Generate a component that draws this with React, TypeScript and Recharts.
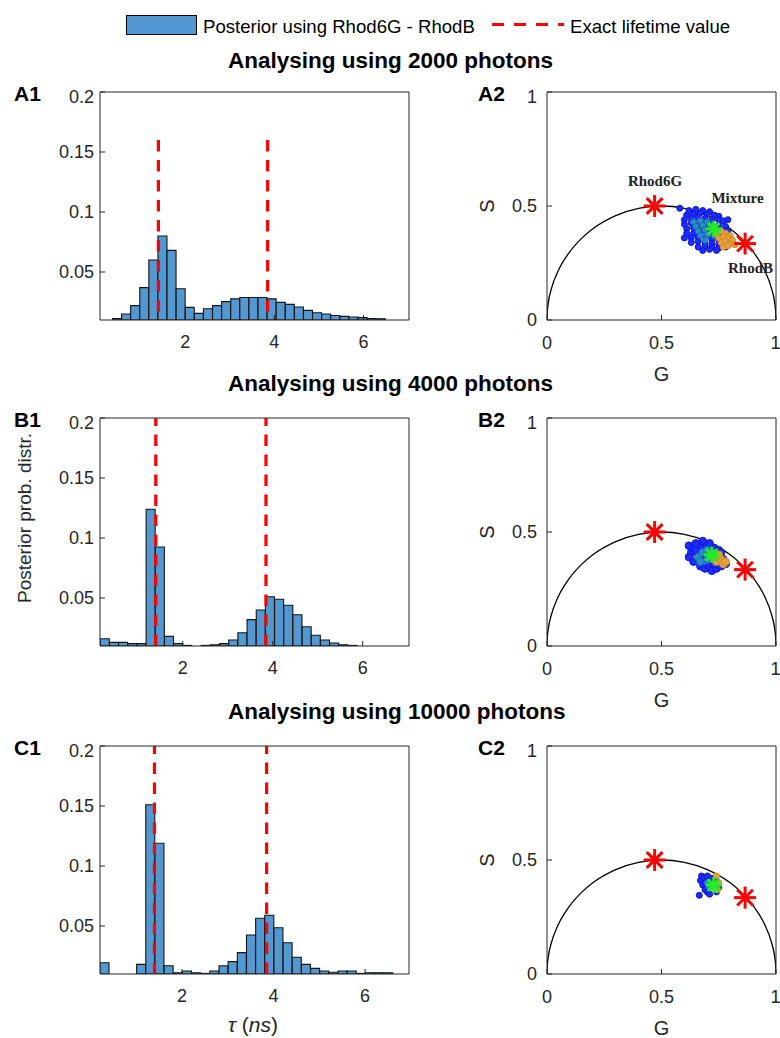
import {
  Bar,
  ComposedChart,
  Line,
  ReferenceLine,
  Scatter,
  XAxis,
  YAxis,
} from 'recharts';

const INK = '#262626';
const BAR_FILL = '#5398d0';
const RED = '#ff0000';
const FONT = '"Liberation Sans", Arial, sans-serif';

// A1 – 2000 photons, bin centres (ns) and posterior probability
const tauA = [
  0.472, 0.676, 0.88, 1.084, 1.288, 1.492, 1.696, 1.9, 2.104, 2.308, 2.512,
  2.716, 2.92, 3.124, 3.328, 3.532, 3.736, 3.94, 4.144, 4.348, 4.552, 4.756,
  4.96, 5.164, 5.368, 5.572, 5.776, 5.98, 6.184, 6.388,
];
const probA = [
  0.0113, 0.015, 0.022, 0.037, 0.06, 0.08, 0.068, 0.036, 0.0205, 0.0155,
  0.0194, 0.022, 0.0253, 0.0276, 0.0287, 0.0287, 0.0287, 0.0276, 0.0247,
  0.023, 0.0208, 0.018, 0.016, 0.015, 0.0138, 0.013, 0.0125, 0.012, 0.0113,
  0.0111,
];

// B1 – 4000 photons
const tauB = [
  0.268, 0.472, 0.676, 0.88, 1.084, 1.288, 1.492, 1.696, 1.9, 2.104, 2.308,
  2.512, 2.716, 2.92, 3.124, 3.328, 3.532, 3.736, 3.94, 4.144, 4.348, 4.552,
  4.756, 4.96, 5.164, 5.368, 5.572, 5.776, 5.98, 6.184, 6.388, 6.592,
];
const probB = [
  0.016, 0.013, 0.013, 0.012, 0.012, 0.124, 0.0925, 0.018, 0.012, 0.0105,
  null, 0.0105, 0.011, 0.012, 0.015, 0.021, 0.032, 0.04, 0.051, 0.049, 0.044,
  0.036, 0.026, 0.019, 0.015, 0.0125, 0.011, 0.0105, null, null, null, null,
];

// C1 – 10000 photons
const tauC = [
  0.31, 0.51, 0.71, 0.91, 1.11, 1.31, 1.51, 1.71, 1.91, 2.11, 2.31, 2.51,
  2.71, 2.91, 3.11, 3.31, 3.51, 3.71, 3.91, 4.11, 4.31, 4.51, 4.71, 4.91,
  5.11, 5.31, 5.51, 5.71, 5.91, 6.11, 6.31, 6.51,
];
const probC = [
  0.0194, null, null, null, 0.018, 0.151, 0.119, 0.0169, 0.011, 0.0125, 0.011,
  0.0105, 0.0125, 0.0169, 0.0203, 0.0278, 0.0425, 0.0564, 0.059, 0.0486,
  0.036, 0.024, 0.018, 0.0147, 0.0125, 0.0114, 0.0125, 0.0125, 0.0105, 0.011,
  0.011, 0.011,
];

const exactTau = [1.4, 3.85];
const histTicksX = [2, 4, 6];
const histTicksY = [0.05, 0.1, 0.15, 0.2];

// universal semicircle
const arcG = [
  0, 0.001, 0.005, 0.02, 0.05, 0.1, 0.15, 0.2, 0.3, 0.4, 0.5, 0.6, 0.7, 0.8,
  0.85, 0.9, 0.95, 0.98, 0.995, 0.999, 1,
];
const arcS = [
  0, 0.032, 0.0705, 0.14, 0.218, 0.3, 0.357, 0.4, 0.458, 0.49, 0.5, 0.49,
  0.458, 0.4, 0.357, 0.3, 0.218, 0.14, 0.0705, 0.032, 0,
];

// pure dyes (Rhod6G, RhodB)
const dyeG = [0.47, 0.865];
const dyeS = [0.5, 0.335];

// A2 cloud
const a2BlueG = [
  0.58, 0.62, 0.65, 0.68, 0.71, 0.61, 0.64, 0.67, 0.7, 0.73, 0.75, 0.6, 0.63,
  0.66, 0.69, 0.72, 0.75, 0.77, 0.6, 0.63, 0.66, 0.69, 0.72, 0.75, 0.78, 0.61,
  0.64, 0.67, 0.7, 0.73, 0.76, 0.79, 0.61, 0.64, 0.67, 0.7, 0.73, 0.76, 0.79,
  0.6, 0.63, 0.66, 0.69, 0.72, 0.75, 0.78, 0.63, 0.66, 0.69, 0.72, 0.75, 0.78,
  0.66, 0.69, 0.72, 0.75, 0.78, 0.68, 0.71, 0.74, 0.79,
];
const a2BlueS = [
  0.49, 0.48, 0.485, 0.48, 0.475, 0.46, 0.465, 0.47, 0.465, 0.46, 0.455, 0.44,
  0.445, 0.45, 0.445, 0.44, 0.44, 0.435, 0.42, 0.425, 0.42, 0.425, 0.42,
  0.415, 0.41, 0.4, 0.405, 0.4, 0.4, 0.395, 0.39, 0.39, 0.38, 0.38, 0.385,
  0.38, 0.375, 0.37, 0.37, 0.36, 0.36, 0.365, 0.36, 0.355, 0.35, 0.35, 0.34,
  0.345, 0.34, 0.335, 0.33, 0.33, 0.32, 0.325, 0.32, 0.315, 0.32, 0.305, 0.31,
  0.305, 0.44,
];
const a2TealG = [0.64, 0.67, 0.7, 0.65, 0.68, 0.71, 0.66, 0.69, 0.72, 0.67, 0.7, 0.73, 0.69];
const a2TealS = [0.43, 0.435, 0.43, 0.41, 0.415, 0.42, 0.39, 0.395, 0.4, 0.37, 0.375, 0.37, 0.35];
const a2OrangeG = [0.74, 0.76, 0.78, 0.8, 0.75, 0.77, 0.79, 0.81, 0.76, 0.78, 0.8, 0.82, 0.77, 0.79];
const a2OrangeS = [0.38, 0.39, 0.38, 0.37, 0.36, 0.365, 0.36, 0.35, 0.34, 0.345, 0.335, 0.33, 0.32, 0.325];

// B2 cloud
const b2BlueG = [
  0.62, 0.63, 0.62, 0.64, 0.64, 0.65, 0.66, 0.67, 0.67, 0.68, 0.69, 0.69, 0.7,
  0.71, 0.72, 0.73, 0.74, 0.75, 0.76, 0.77, 0.78, 0.65, 0.71, 0.76, 0.73,
];
const b2BlueS = [
  0.44, 0.41, 0.39, 0.37, 0.43, 0.45, 0.4, 0.35, 0.43, 0.46, 0.38, 0.34, 0.44,
  0.35, 0.33, 0.43, 0.34, 0.42, 0.35, 0.38, 0.36, 0.42, 0.45, 0.41, 0.36,
];
const b2TealG = [0.66, 0.68, 0.7, 0.67, 0.7, 0.72];
const b2TealS = [0.39, 0.41, 0.42, 0.37, 0.38, 0.41];
const b2OrangeG = [0.74, 0.76, 0.75, 0.77, 0.73, 0.78];
const b2OrangeS = [0.37, 0.38, 0.4, 0.36, 0.39, 0.37];

// C2 cloud
const c2BlueG = [0.665, 0.67, 0.675, 0.68, 0.685, 0.69, 0.69, 0.7, 0.7, 0.71, 0.72, 0.74, 0.75, 0.74];
const c2BlueS = [0.345, 0.41, 0.43, 0.39, 0.42, 0.4, 0.37, 0.36, 0.43, 0.35, 0.42, 0.36, 0.38, 0.41];
const c2TealG = [0.7, 0.71];
const c2TealS = [0.4, 0.38];
const c2OrangeG = [0.745, 0.75, 0.74];
const c2OrangeS = [0.37, 0.4, 0.43];

const mixG = [0.728, 0.72, 0.728];
const mixS = [0.4, 0.4, 0.39];

const zip = (g: number[], s: number[]) => g.map((v, i) => ({ g: v, s: s[i] }));

const makeDot = (fill: string, stroke: string, r: number) => (props: any) => {
  const { cx, cy } = props;
  if (cx == null || cy == null) return <g />;
  return <circle cx={cx} cy={cy} r={r} fill={fill} stroke={stroke} strokeWidth={1} />;
};

const makeStar = (color: string, r: number, w: number) => (props: any) => {
  const { cx, cy } = props;
  if (cx == null || cy == null) return <g />;
  const d = r * 0.72;
  return (
    <g stroke={color} strokeWidth={w}>
      <line x1={cx - r} y1={cy} x2={cx + r} y2={cy} />
      <line x1={cx} y1={cy - r} x2={cx} y2={cy + r} />
      <line x1={cx - d} y1={cy - d} x2={cx + d} y2={cy + d} />
      <line x1={cx - d} y1={cy + d} x2={cx + d} y2={cy - d} />
    </g>
  );
};

const PLOT_H = 228;

interface HistProps {
  top: number;
  tau: number[];
  prob: (number | null)[];
  domain: [number, number];
  lineTop?: number;
}

function Hist({ top, tau, prob, domain, lineTop }: HistProps) {
  const data = tau.map((t, i) => ({ tau: t, p: prob[i] }));
  const dash = { stroke: RED, strokeWidth: 3.2, strokeDasharray: '11.5 8.5' };
  return (
    <div style={{ position: 'absolute', left: 0, top: top - 6 }}>
      <ComposedChart
        width={415}
        height={270}
        data={data}
        barCategoryGap={0}
        margin={{ top: 5, right: 5, bottom: 0, left: 0 }}
      >
        <XAxis
          xAxisId="b"
          dataKey="tau"
          type="number"
          domain={domain}
          allowDataOverflow
          ticks={histTicksX}
          height={36}
          stroke={INK}
          tickSize={-5}
          tickMargin={20}
          tick={{ fill: INK, fontSize: 18 }}
        />
        <XAxis
          xAxisId="t"
          orientation="top"
          type="number"
          domain={domain}
          allowDataOverflow
          ticks={histTicksX}
          height={1}
          stroke={INK}
          tickSize={-5}
          tick={false}
        />
        <YAxis
          yAxisId="l"
          type="number"
          domain={[0.01, 0.2]}
          allowDataOverflow
          ticks={histTicksY}
          width={100}
          stroke={INK}
          tickSize={-5}
          tickMargin={11}
          tick={{ fill: INK, fontSize: 18 }}
        />
        <YAxis
          yAxisId="r"
          orientation="right"
          type="number"
          domain={[0.01, 0.2]}
          allowDataOverflow
          ticks={histTicksY}
          width={1}
          stroke={INK}
          tickSize={-5}
          tick={false}
        />
        <Bar
          xAxisId="b"
          yAxisId="l"
          dataKey="p"
          fill={BAR_FILL}
          stroke="#141414"
          strokeWidth={1.1}
          isAnimationActive={false}
        />
        {exactTau.map(x =>
          lineTop ? (
            <ReferenceLine
              key={x}
              xAxisId="b"
              yAxisId="l"
              segment={[
                { x, y: lineTop },
                { x, y: 0.01 },
              ]}
              {...dash}
            />
          ) : (
            <ReferenceLine key={x} xAxisId="b" yAxisId="l" x={x} {...dash} />
          ),
        )}
      </ComposedChart>
    </div>
  );
}

interface Cloud {
  blue: { g: number; s: number }[];
  teal: { g: number; s: number }[];
  orange: { g: number; s: number }[];
  mix: { g: number; s: number }[];
  r: number;
}

function Phasor({ top, cloud }: { top: number; cloud: Cloud }) {
  const arc = zip(arcG, arcS);
  const dyes = zip(dyeG, dyeS);
  return (
    <div style={{ position: 'absolute', left: 487, top: top - 6 }}>
      <ComposedChart
        width={293}
        height={270}
        margin={{ top: 5, right: 3, bottom: 0, left: 0 }}
      >
        <XAxis
          xAxisId="b"
          dataKey="g"
          type="number"
          domain={[0, 1]}
          allowDataOverflow
          ticks={[0, 0.5, 1]}
          height={36}
          stroke={INK}
          tickSize={-5}
          tickMargin={21}
          tick={{ fill: INK, fontSize: 18 }}
        />
        <XAxis
          xAxisId="t"
          orientation="top"
          type="number"
          domain={[0, 1]}
          allowDataOverflow
          ticks={[0, 0.5, 1]}
          height={1}
          stroke={INK}
          tickSize={-5}
          tick={false}
        />
        <YAxis
          yAxisId="l"
          dataKey="s"
          type="number"
          domain={[0, 1]}
          allowDataOverflow
          ticks={[0, 0.5, 1]}
          width={60}
          stroke={INK}
          tickSize={-5}
          tickMargin={15}
          tick={{ fill: INK, fontSize: 18 }}
        />
        <YAxis
          yAxisId="r"
          orientation="right"
          type="number"
          domain={[0, 1]}
          allowDataOverflow
          ticks={[0, 0.5, 1]}
          width={1}
          stroke={INK}
          tickSize={-5}
          tick={false}
        />
        <Line
          xAxisId="b"
          yAxisId="l"
          data={arc}
          dataKey="s"
          type="monotone"
          stroke="#000"
          strokeWidth={1.3}
          dot={false}
          isAnimationActive={false}
        />
        <Scatter xAxisId="b" yAxisId="l" data={cloud.blue} shape={makeDot('#1e2cff', '#0a14d8', cloud.r)} isAnimationActive={false} />
        <Scatter xAxisId="b" yAxisId="l" data={cloud.teal} shape={makeDot('#2a8fc8', '#1a6fb0', cloud.r)} isAnimationActive={false} />
        <Scatter xAxisId="b" yAxisId="l" data={cloud.orange} shape={makeDot('#e5a23a', '#d08a2a', cloud.r)} isAnimationActive={false} />
        <Scatter xAxisId="b" yAxisId="l" data={cloud.mix} shape={makeStar('#22ee22', 8, 3)} isAnimationActive={false} />
        <Scatter xAxisId="b" yAxisId="l" data={dyes} shape={makeStar(RED, 11, 3)} isAnimationActive={false} />
      </ComposedChart>
    </div>
  );
}

const rows = [
  { top: 92, title: 'Analysing using 2000 photons', titleY: 68, p1: 'A1', p2: 'A2' },
  { top: 418, title: 'Analysing using 4000 photons', titleY: 391, p1: 'B1', p2: 'B2' },
  { top: 746, title: 'Analysing using 10000 photons', titleY: 719, p1: 'C1', p2: 'C2' },
];

export default function App() {
  const clouds: Cloud[] = [
    { blue: zip(a2BlueG, a2BlueS), teal: zip(a2TealG, a2TealS), orange: zip(a2OrangeG, a2OrangeS), mix: zip(mixG.slice(0, 1), mixS.slice(0, 1)), r: 3 },
    { blue: zip(b2BlueG, b2BlueS), teal: zip(b2TealG, b2TealS), orange: zip(b2OrangeG, b2OrangeS), mix: zip(mixG.slice(1, 2), mixS.slice(1, 2)), r: 3.8 },
    { blue: zip(c2BlueG, c2BlueS), teal: zip(c2TealG, c2TealS), orange: zip(c2OrangeG, c2OrangeS), mix: zip(mixG.slice(2, 3), mixS.slice(2, 3)), r: 3 },
  ];
  return (
    <div
      style={{
        position: 'absolute',
        left: 0,
        top: 0,
        width: 780,
        height: 1038,
        background: '#fff',
        fontFamily: FONT,
        overflow: 'hidden',
      }}
    >
      <Hist top={92} tau={tauA} prob={probA} domain={[0.09, 7.02]} lineTop={0.16} />
      <Hist top={418} tau={tauB} prob={probB} domain={[0.16, 7.03]} />
      <Hist top={746} tau={tauC} prob={probC} domain={[0.21, 6.96]} />
      {clouds.map((c, i) => (
        <Phasor key={i} top={rows[i].top} cloud={c} />
      ))}

      <svg
        width={780}
        height={1038}
        style={{ position: 'absolute', left: 0, top: 0, pointerEvents: 'none' }}
      >
        {/* legend */}
        <rect x={126.5} y={15.5} width={70} height={19} fill={BAR_FILL} stroke="#000" strokeWidth={1} />
        <text x={203} y={33} fontSize={18.6} fill="#000">
          Posterior using Rhod6G - RhodB
        </text>
        <line x1={492} y1={24.5} x2={564} y2={24.5} stroke={RED} strokeWidth={3} strokeDasharray="12 10" />
        <text x={570} y={33} fontSize={18.6} fill="#000">
          Exact lifetime value
        </text>

        {rows.map(r => (
          <g key={r.p1}>
            <text x={228} y={r.titleY} fontSize={22.5} fontWeight="bold" fill="#000">
              {r.title}
            </text>
            <text x={14} y={r.top + 9} fontSize={21} fontWeight="bold" fill="#000">
              {r.p1}
            </text>
            <text x={478} y={r.top + 9} fontSize={21} fontWeight="bold" fill="#000">
              {r.p2}
            </text>
            <text x={661.5} y={r.top + PLOT_H + 61} fontSize={20} fill={INK} textAnchor="middle">
              G
            </text>
            <text
              x={493.5}
              y={r.top + PLOT_H / 2}
              fontSize={20}
              fill={INK}
              textAnchor="middle"
              transform={`rotate(-90 493.5 ${r.top + PLOT_H / 2})`}
            >
              S
            </text>
          </g>
        ))}

        <text x={31} y={518} fontSize={19} fill={INK} textAnchor="middle" transform="rotate(-90 31 518)">
          Posterior prob. distr.
        </text>
        <text x={253} y={1032} fontSize={21} fill={INK} textAnchor="middle">
          <tspan fontStyle="italic">τ</tspan>
          <tspan> (</tspan>
          <tspan fontStyle="italic">ns</tspan>
          <tspan>)</tspan>
        </text>

        {/* A2 annotations */}
        <g fontFamily='"Liberation Serif", "Times New Roman", serif' fontWeight="bold" fontSize={15} fill="#222" textAnchor="middle">
          <text x={655} y={186}>Rhod6G</text>
          <text x={737.5} y={203}>Mixture</text>
          <text x={750.5} y={273}>RhodB</text>
        </g>
      </svg>
    </div>
  );
}
